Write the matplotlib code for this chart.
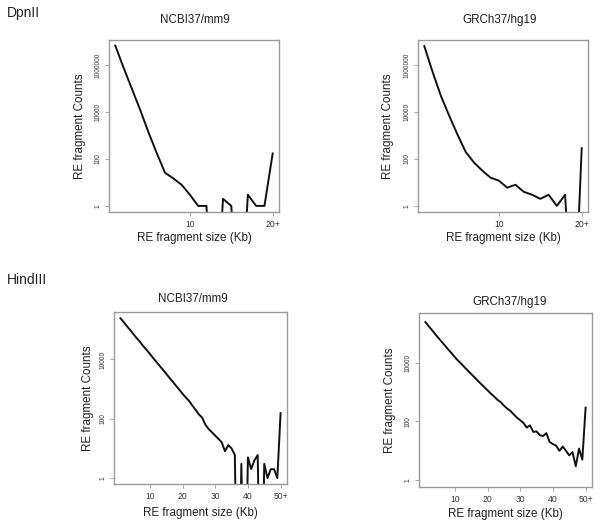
import numpy as np
import matplotlib.pyplot as plt

plt.rcParams['font.family'] = ['Liberation Sans', 'DejaVu Sans']

# fragment size bins (Kb); last bin is the "+" bin
size_dpn = np.arange(1, 21)
size_hind = np.arange(1, 51)

# DpnII counts per bin (0 = no fragment)
dpn_mm9 = [6900000, 790000, 100000, 12600, 1400, 180, 26, 15, 8, 3,
           1, 1, 0, 2, 1, 0, 3, 1, 1, 174]
dpn_hg19 = [6600000, 525000, 50000, 7100, 1120, 200, 71, 32, 16, 12,
            6, 8, 4, 3, 2, 3, 1, 3, 0, 290]

# HindIII counts per bin
hind_mm9 = [245000, 182000, 132000, 98000, 71000, 52000, 39000, 28000, 21000, 15500,
            11200, 8300, 6100, 4500, 3300, 2400, 1800, 1300, 960, 700,
            520, 400, 280, 200, 140, 110, 63, 45, 35, 27,
            21, 16, 8, 13, 10, 6, 0, 3, 0, 5,
            2, 4, 6, 0, 3, 1, 2, 2, 1, 155]
hind_hg19 = [240000, 174000, 129000, 93000, 69000, 51000, 38000, 28000, 21000, 15500,
             11700, 9100, 6900, 5400, 4100, 3200, 2450, 1900, 1480, 1150,
             890, 710, 550, 457, 347, 275, 229, 174, 135, 110,
             89, 62, 74, 44, 46, 34, 32, 40, 20, 17,
             15, 10, 14, 10, 7, 9, 3, 12, 5, 295]

W, H = 601, 526
fig = plt.figure(figsize=(W / 100, H / 100), dpi=100)
grey = '#9a9a9a'


def px(x, y):
    return x / W, 1 - y / H


def panel(box, x, y, xticks, xlabels, yticks, ylabels, ylim):
    l, t, r, b = box
    ax = fig.add_axes([l / W, 1 - b / H, (r - l) / W, (b - t) / H])
    yv = np.array(y, dtype=float)
    yv[yv == 0] = 1e-6
    ax.plot(x, yv, color='#111111', lw=1.4)
    ax.set_yscale('log')
    n = len(x)
    pad = 0.04 * (n - 1)
    ax.set_xlim(1 - pad, n + pad)
    ax.set_ylim(*ylim)
    ax.set_xticks(xticks)
    ax.set_xticklabels(xlabels, fontsize=6.2, color='#333333')
    ax.set_yticks(yticks)
    ax.set_yticklabels(ylabels, fontsize=4.8, color='#333333', rotation=90, va='center')
    ax.minorticks_off()
    ax.tick_params(axis='both', length=3, width=0.6, color=grey, pad=2.5)
    for s in ax.spines.values():
        s.set_color(grey)
        s.set_linewidth(1.0)
    return ax


panel((109, 40, 279, 212), size_dpn, dpn_mm9, [10, 20], ['10', '20+'],
      [1, 100, 1e4, 1e6], ['1', '100', '10000', '1000000'], (10 ** -0.26, 10 ** 7.08))
panel((418, 40, 588, 212), size_dpn, dpn_hg19, [10, 20], ['10', '20+'],
      [1, 100, 1e4, 1e6], ['1', '100', '10000', '1000000'], (10 ** -0.26, 10 ** 7.08))
panel((114, 312, 287, 484), size_hind, hind_mm9, [10, 20, 30, 40, 50],
      ['10', '20', '30', '40', '50+'], [1, 100, 1e4], ['1', '100', '10000'],
      (10 ** -0.2, 10 ** 5.6))
panel((419, 313, 592, 487), size_hind, hind_hg19, [10, 20, 30, 40, 50],
      ['10', '20', '30', '40', '50+'], [1, 100, 1e4], ['1', '100', '10000'],
      (10 ** -0.23, 10 ** 5.69))

# enzyme labels
fig.text(*px(7, 13), 'DpnII', fontsize=10, va='center', ha='left', color='#222222')
fig.text(*px(7, 280), 'HindIII', fontsize=10, va='center', ha='left', color='#222222')

# panel titles
for x, y, s in [(195, 20, 'NCBI37/mm9'), (500, 20, 'GRCh37/hg19'),
                (193, 299, 'NCBI37/mm9'), (510, 302, 'GRCh37/hg19')]:
    fig.text(*px(x, y), s, fontsize=8.4, ha='center', va='center', color='#222222')

# axis labels
for x, y in [(194, 238), (503, 238), (200, 513), (505, 514)]:
    fig.text(*px(x, y), 'RE fragment size (Kb)', fontsize=8.4, ha='center', va='center', color='#222222')
for x, y in [(80, 126), (388, 126), (88, 398), (390, 400)]:
    fig.text(*px(x, y), 'RE fragment Counts', fontsize=8.4, ha='center', va='center',
             rotation=90, color='#222222')

fig.savefig('out.png', dpi=100)
